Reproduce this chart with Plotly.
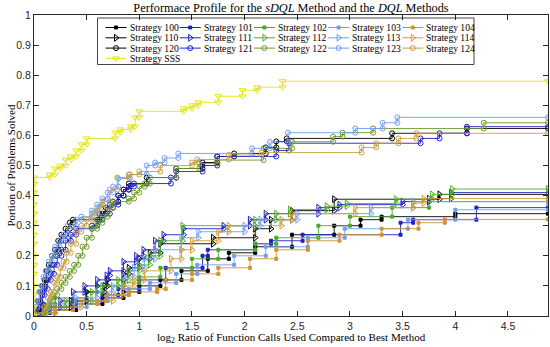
import plotly.graph_objects as go

# ---------------- data (jump positions and levels after each jump) ----------------
X_END = 4.88

names = ["Strategy 100", "Strategy 101", "Strategy 102", "Strategy 103", "Strategy 104",
         "Strategy 110", "Strategy 111", "Strategy 112", "Strategy 113", "Strategy 114",
         "Strategy 120", "Strategy 121", "Strategy 122", "Strategy 123", "Strategy 124",
         "Strategy SSS"]

s100_x = [0, 0.1, 0.4, 0.65, 0.85, 1.0, 1.2, 1.4, 1.65, 1.85, 2.1, 2.45, 2.85, 3.1, 3.3, 4.0]
s100_y = [0.01, 0.02, 0.04, 0.06, 0.08, 0.1, 0.12, 0.15, 0.19, 0.21, 0.23, 0.27, 0.3, 0.32, 0.33, 0.34]
s101_x = [0, 0.15, 0.4, 0.65, 0.8, 1.0, 1.25, 1.6, 1.65, 2.1, 2.25, 2.55, 3.48, 3.6, 4.2]
s101_y = [0.01, 0.03, 0.05, 0.07, 0.09, 0.12, 0.16, 0.2, 0.22, 0.24, 0.25, 0.27, 0.31, 0.32, 0.36]
s102_x = [0, 0.1, 0.2, 0.5, 0.6, 0.85, 1.0, 1.2, 1.5, 1.75, 2.1, 2.3, 2.7, 3.0, 3.4, 3.75]
s102_y = [0.02, 0.04, 0.06, 0.08, 0.1, 0.11, 0.13, 0.16, 0.19, 0.22, 0.24, 0.26, 0.3, 0.33, 0.36, 0.38]
s103_x = [0, 0.2, 0.5, 0.7, 0.9, 1.1, 1.35, 1.55, 1.9, 2.2, 2.6, 2.95, 3.55, 4.0]
s103_y = [0.01, 0.03, 0.05, 0.07, 0.09, 0.11, 0.14, 0.17, 0.2, 0.23, 0.26, 0.29, 0.32, 0.353]
s104_x = [0, 0.2, 0.37, 0.6, 0.68, 0.9, 1.17, 1.25, 1.5, 1.75, 2.05, 2.3, 2.6, 2.9, 3.3, 3.65, 3.9]
s104_y = [0.01, 0.02, 0.04, 0.05, 0.07, 0.08, 0.09, 0.12, 0.14, 0.16, 0.19, 0.22, 0.25, 0.27, 0.29, 0.31, 0.321]

s110_x = [0, 0.05, 0.1, 0.35, 0.5, 0.67, 0.7, 0.85, 0.9, 1.0, 1.1, 1.2, 1.7, 2.1, 2.25, 2.45, 2.85, 3.85]
s110_y = [0.01, 0.02, 0.03, 0.05, 0.08, 0.1, 0.12, 0.14, 0.16, 0.19, 0.21, 0.24, 0.26, 0.29, 0.32, 0.35, 0.388, 0.404]
s111_x = [0, 0.08, 0.25, 0.37, 0.48, 0.6, 0.69, 0.72, 0.85, 0.97, 1.04, 1.15, 1.23, 1.42, 1.8, 2.05, 2.2, 2.7, 2.9, 3.5, 3.75, 3.96]
s111_y = [0.01, 0.03, 0.05, 0.08, 0.1, 0.12, 0.135, 0.15, 0.18, 0.2, 0.22, 0.25, 0.27, 0.29, 0.3, 0.32, 0.34, 0.36, 0.37, 0.38, 0.39, 0.41]
s112_x = [0, 0.1, 0.3, 0.55, 0.65, 0.8, 0.9, 1.0, 1.1, 1.2, 1.41, 2.1, 2.3, 2.43, 2.78, 2.97, 3.44, 3.78, 3.97]
s112_y = [0.01, 0.03, 0.05, 0.08, 0.1, 0.12, 0.15, 0.17, 0.2, 0.25, 0.3, 0.32, 0.34, 0.354, 0.365, 0.374, 0.388, 0.404, 0.422]
s113_x = [0, 0.15, 0.4, 0.6, 0.75, 0.85, 0.95, 1.05, 1.15, 1.4, 1.56, 2.0, 2.15, 2.5, 3.2, 3.6]
s113_y = [0.02, 0.04, 0.06, 0.08, 0.1, 0.13, 0.16, 0.19, 0.22, 0.26, 0.28, 0.3, 0.32, 0.34, 0.36, 0.38]
s114_x = [0, 0.2, 0.45, 0.75, 0.85, 0.95, 1.05, 1.3, 1.4, 1.5, 1.75, 1.85, 2.35, 2.45, 3.05, 3.6, 3.7]
s114_y = [0.01, 0.03, 0.05, 0.07, 0.1, 0.12, 0.15, 0.19, 0.22, 0.25, 0.28, 0.3, 0.32, 0.34, 0.36, 0.375, 0.39]

s120_x = [0, 0.04, 0.06, 0.08, 0.1, 0.12, 0.14, 0.17, 0.2, 0.23, 0.26, 0.3, 0.34, 0.37, 0.62, 0.68, 0.75,
          0.8, 0.85, 0.9, 1.07, 1.35, 1.6, 1.74, 1.9, 2.2, 2.3, 2.4, 3.4, 4.11]
s120_y = [0.02, 0.05, 0.08, 0.1, 0.12, 0.15, 0.17, 0.2, 0.22, 0.25, 0.27, 0.29, 0.31, 0.32, 0.34, 0.36, 0.38,
          0.4, 0.42, 0.44, 0.46, 0.49, 0.51, 0.53, 0.54, 0.56, 0.58, 0.59, 0.607, 0.623]
s121_x = [0, 0.05, 0.08, 0.1, 0.13, 0.16, 0.19, 0.22, 0.26, 0.3, 0.35, 0.4, 0.55, 0.6, 0.65, 0.72, 0.8,
          0.85, 0.9, 0.95, 1.3, 1.35, 1.6, 1.74, 2.3, 2.42, 3.67, 3.85, 4.11]
s121_y = [0.02, 0.04, 0.07, 0.09, 0.12, 0.14, 0.17, 0.2, 0.22, 0.25, 0.27, 0.29, 0.3, 0.32, 0.34, 0.37, 0.4,
          0.42, 0.43, 0.44, 0.46, 0.48, 0.5, 0.53, 0.55, 0.574, 0.59, 0.607, 0.629]
s122_x = [0, 0.12, 0.15, 0.18, 0.22, 0.26, 0.3, 0.34, 0.38, 0.42, 0.46, 0.5, 0.55, 0.6, 0.65, 0.7, 0.75,
          0.9, 0.95, 1.0, 1.05, 1.1, 1.35, 1.57, 1.74, 2.18, 2.45, 2.84, 2.93, 3.22, 4.27]
s122_y = [0.01, 0.03, 0.05, 0.07, 0.09, 0.11, 0.13, 0.15, 0.17, 0.2, 0.23, 0.26, 0.29, 0.31, 0.33, 0.36, 0.38,
          0.39, 0.41, 0.43, 0.44, 0.46, 0.49, 0.507, 0.518, 0.557, 0.579, 0.596, 0.609, 0.623, 0.642]
s123_x = [0, 0.03, 0.05, 0.07, 0.09, 0.11, 0.14, 0.17, 0.2, 0.24, 0.28, 0.32, 0.4, 0.45, 0.55, 0.6, 0.65,
          0.7, 0.75, 0.8, 0.91, 1.07, 1.15, 1.24, 1.37, 2.07, 2.24, 2.41, 3.05, 3.31, 3.45]
s123_y = [0.03, 0.05, 0.08, 0.1, 0.13, 0.15, 0.18, 0.2, 0.23, 0.25, 0.27, 0.3, 0.32, 0.33, 0.35, 0.37, 0.39,
          0.41, 0.43, 0.457, 0.47, 0.5, 0.51, 0.525, 0.54, 0.557, 0.578, 0.609, 0.623, 0.642, 0.66]
s124_x = [0, 0.1, 0.13, 0.16, 0.19, 0.22, 0.25, 0.28, 0.31, 0.35, 0.4, 0.45, 0.5, 0.55, 0.6, 0.65, 0.72,
          0.79, 0.9, 1.0, 1.2, 1.5, 1.55, 1.85, 2.16, 3.11, 3.25, 3.46, 3.63]
s124_y = [0.01, 0.03, 0.06, 0.08, 0.11, 0.13, 0.16, 0.18, 0.21, 0.24, 0.28, 0.3, 0.32, 0.34, 0.36, 0.38, 0.42,
          0.46, 0.47, 0.48, 0.5, 0.51, 0.52, 0.535, 0.543, 0.56, 0.574, 0.59, 0.607]

sSSS_x = [0, 0, 0, 0, 0, 0, 0, 0, 0, 0, 0, 0, 0, 0,
          0.15, 0.2, 0.25, 0.3, 0.35, 0.4, 0.45, 0.5, 0.77, 0.82, 0.92, 0.96, 1.0,
          1.42, 1.5, 1.56, 1.75, 1.98, 2.12, 2.36]
sSSS_y = [0.03, 0.07, 0.10, 0.14, 0.17, 0.20, 0.24, 0.27, 0.31, 0.34, 0.37, 0.41, 0.44, 0.46,
          0.47, 0.49, 0.5, 0.52, 0.53, 0.55, 0.57, 0.59, 0.61, 0.62, 0.63, 0.66, 0.68,
          0.69, 0.70, 0.71, 0.73, 0.75, 0.76, 0.78]

series_x = [s100_x, s101_x, s102_x, s103_x, s104_x, s110_x, s111_x, s112_x, s113_x, s114_x,
            s120_x, s121_x, s122_x, s123_x, s124_x, sSSS_x]
series_y = [s100_y, s101_y, s102_y, s103_y, s104_y, s110_y, s111_y, s112_y, s113_y, s114_y,
            s120_y, s121_y, s122_y, s123_y, s124_y, sSSS_y]

x_ticks = [0, 0.5, 1, 1.5, 2, 2.5, 3, 3.5, 4, 4.5]
y_ticks = [0, 0.1, 0.2, 0.3, 0.4, 0.5, 0.6, 0.7, 0.8, 0.9, 1]

# ---------------- styles ----------------
BLACK, BLUE, LBLUE, YELLOW = "#000000", "#2020c8", "#6f9ef0", "#e3e31a"
colors = [BLACK, BLUE, "#4aa82a", LBLUE, "#cf9436",
          BLACK, BLUE, "#4fb02a", LBLUE, "#d69a2e",
          BLACK, BLUE, "#6b9a2a", LBLUE, "#c8a040",
          YELLOW]
symbols = ["square"] * 5 + ["triangle-right-open"] * 5 + ["circle-open"] * 5 + ["triangle-down-open"]
msizes = [3] * 5 + [6] * 5 + [5] * 5 + [6]

SERIF = "Liberation Serif"
SANS = "Liberation Sans"

# plot-area geometry in figure pixels
PL, PR, PT, PB = 34, 548, 15, 316


def stairs(xs, ys, x_end):
    X, Y, prev = [], [], 0.0
    for x, y in zip(xs, ys):
        X += [x, x]
        Y += [prev, y]
        prev = y
    X.append(x_end)
    Y.append(prev)
    return X, Y


fig = go.Figure()
for name, xs, ys, c, sym, ms in zip(names, series_x, series_y, colors, symbols, msizes):
    X, Y = stairs(xs, ys, X_END)
    fig.add_trace(go.Scatter(x=X, y=Y, mode="lines+markers", name=name,
                             line=dict(color=c, width=0.9),
                             marker=dict(symbol=sym, size=ms, color=c, line=dict(color=c, width=1)),
                             showlegend=False, cliponaxis=True))

# ---------------- custom legend (figure pixel coordinates on an overlay axis) ----------------
L_LEFT, L_RIGHT, L_TOP, L_BOTTOM = 97.5, 474, 18, 64.5
COL0_TEXT, COL_STEP = 127.5, 74.2
ROW0, ROW_STEP = 27.5, 10.3
for i, (name, c, sym, ms) in enumerate(zip(names, colors, symbols, msizes)):
    r, col = divmod(i, 5)
    tx = COL0_TEXT + col * COL_STEP
    ty = ROW0 + r * ROW_STEP
    fig.add_trace(go.Scatter(x=[tx - 22, tx - 11.5, tx - 1], y=[ty, ty, ty], xaxis="x2", yaxis="y2",
                             mode="lines+markers", showlegend=False, hoverinfo="skip",
                             line=dict(color=c, width=1),
                             marker=dict(symbol=sym, size=ms, color=c, opacity=[0, 1, 0],
                                         line=dict(color=c, width=1))))
    fig.add_annotation(x=tx, y=ty, xref="x2", yref="y2", text=name, showarrow=False,
                       xanchor="left", yanchor="middle", font=dict(family=SERIF, size=9.6, color="#000"))

fig.add_shape(type="rect", xref="x2", yref="y2", x0=L_LEFT, x1=L_RIGHT, y0=L_TOP, y1=L_BOTTOM,
              fillcolor="white", line=dict(color="#444", width=1), layer="below")

axis_common = dict(showgrid=False, zeroline=False, showline=True, linecolor="#262626", linewidth=1,
                   ticks="inside", ticklen=5, tickcolor="#262626", mirror="allticks", automargin=False,
                   tickfont=dict(family=SANS, size=10.5, color="#262626"))

fig.update_layout(
    width=550, height=347,
    margin=dict(l=PL, r=550 - PR, t=PT, b=347 - PB, pad=0, autoexpand=False),
    paper_bgcolor="white", plot_bgcolor="white",
    showlegend=False,
    xaxis=dict(range=[0, X_END], tickvals=x_ticks, **axis_common),
    yaxis=dict(range=[0, 1], tickvals=y_ticks, **axis_common),
    xaxis2=dict(range=[PL, PR], overlaying="x", visible=False, anchor="y2", automargin=False),
    yaxis2=dict(range=[PB, PT], overlaying="y", visible=False, anchor="x2", automargin=False),
    title=dict(text="Performace Profile for the <i>sDQL</i> Method and the <i>DQL</i> Methods",
               x=291 / 550, xanchor="center", y=1 - 8 / 347, yanchor="middle", automargin=False,
               font=dict(family=SERIF, size=12.3, color="#000")),
)

fig.add_annotation(text="log<sub>2</sub> Ratio of Function Calls Used Compared to Best Method",
                   xref="paper", yref="paper", x=0.5, y=(PB - 338) / (PB - PT), showarrow=False,
                   xanchor="center", yanchor="middle", font=dict(family=SERIF, size=11, color="#000"))
fig.add_annotation(text="Portion of Problems Solved", xref="paper", yref="paper",
                   x=(10 - PL) / (PR - PL), y=0.5, showarrow=False, textangle=-90,
                   xanchor="center", yanchor="middle", font=dict(family=SERIF, size=11, color="#000"))

fig.write_html("out.html", config={"displayModeBar": False},
               post_script="document.body.style.margin='0';document.body.style.overflow='hidden';")
